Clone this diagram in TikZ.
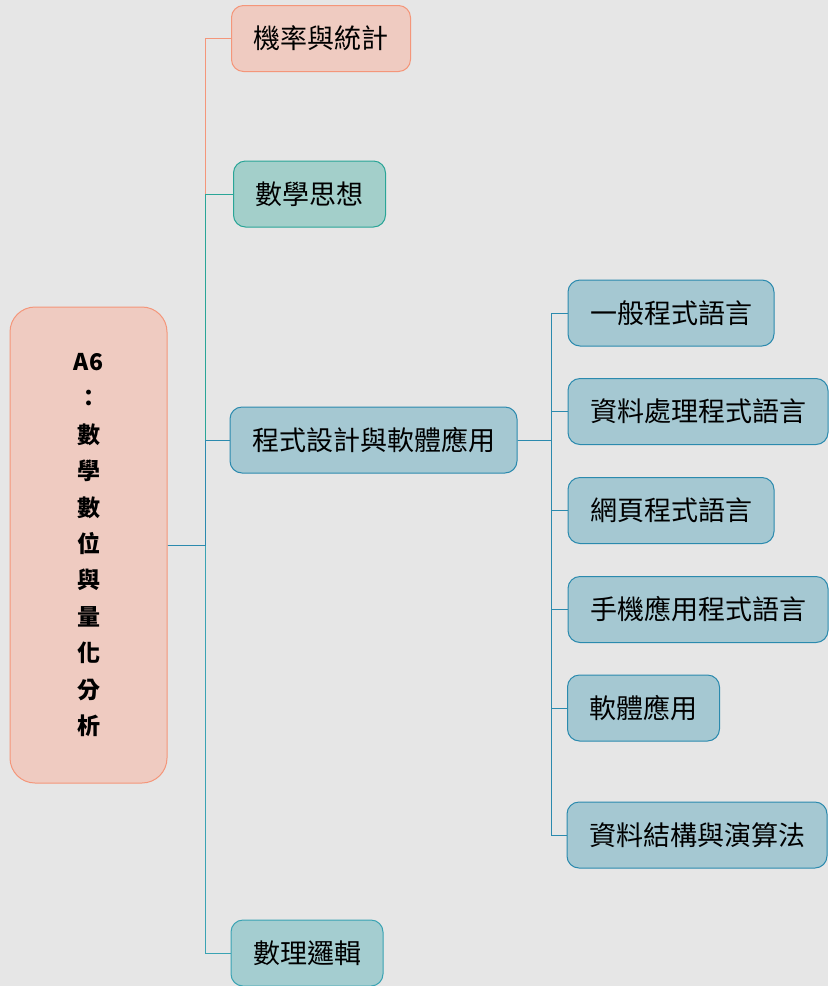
\documentclass[tikz,border=0pt]{standalone}
\usepackage{fontspec}
\usepackage{tikz}
\usetikzlibrary{calc}
\newfontfamily\cjk{Noto Sans CJK TC}
\definecolor{fond}{HTML}{E6E6E6}
\definecolor{rosefill}{HTML}{EFCBC1}
\definecolor{rosedraw}{HTML}{F4967A}
\definecolor{vertfill}{HTML}{A3CFCA}
\definecolor{vertdraw}{HTML}{2AA597}
\definecolor{bleufill}{HTML}{A5C8D2}
\definecolor{bleudraw}{HTML}{2B8AAE}
\definecolor{cyanfill}{HTML}{A4CDD0}
\definecolor{cyandraw}{HTML}{3AA3B3}
\tikzset{
Boite/.style={
 rounded corners=12pt,
 line width=1pt,
 inner xsep=22pt,
 inner ysep=0pt,
 minimum height=66pt,
 font=\cjk\fontsize{27}{32}\selectfont
 },
RoseBoite/.style={Boite, fill=rosefill, draw=rosedraw},
VertBoite/.style={Boite, fill=vertfill, draw=vertdraw},
BleuBoite/.style={Boite, fill=bleufill, draw=bleudraw},
CyanBoite/.style={Boite, fill=cyanfill, draw=cyandraw},
Racine/.style={
 rounded corners=25pt,
 line width=1pt,
 fill=rosefill,
 draw=rosedraw,
 minimum width=157pt,
 minimum height=476pt,
 align=center,
 font=\cjk\bfseries\fontsize{23}{36.4}\selectfont
 },
Lien/.style={line width=1pt, draw=#1}
}
\begin{document}
\begin{tikzpicture}[x=1pt,y=-1pt]
\useasboundingbox (0,0) rectangle (828,986);
\fill[fond] (0,0) rectangle (828,986);
% racine
\node[Racine] (racine) at (88.5,545) {A6\\：\\數\\學\\數\\位\\與\\量\\化\\分\\析};
% premier niveau
\node[RoseBoite] (proba) at (321,38.5) {機率與統計};
\node[VertBoite] (pensee) at (309.5,194) {數學思想};
\node[BleuBoite] (prog) at (373.5,440) {程式設計與軟體應用};
\node[CyanBoite] (logique) at (307,953) {數理邏輯};
% second niveau
\node[BleuBoite] (general) at (671,313) {一般程式語言};
\node[BleuBoite] (donnees) at (698,411.5) {資料處理程式語言};
\node[BleuBoite] (web) at (671,510.5) {網頁程式語言};
\node[BleuBoite] (mobile) at (698,609.5) {手機應用程式語言};
\node[BleuBoite] (logiciel) at (643.5,708) {軟體應用};
\node[BleuBoite] (algo) at (697,835) {資料結構與演算法};
% liens
\coordinate (tronc) at (205,545);
\coordinate (branche) at (551,440);
\draw[Lien=rosedraw] (racine.east) -- (tronc) |- (proba.west);
\draw[Lien=vertdraw] (racine.east) -- (tronc) |- (pensee.west);
\draw[Lien=cyandraw] (racine.east) -- (tronc) |- (logique.west);
\draw[Lien=bleudraw] (racine.east) -- (tronc) |- (prog.west);
\foreach \f in {general,donnees,web,mobile,logiciel,algo}
 \draw[Lien=bleudraw] (prog.east) -- (branche) |- (\f.west);
\end{tikzpicture}
\end{document}
